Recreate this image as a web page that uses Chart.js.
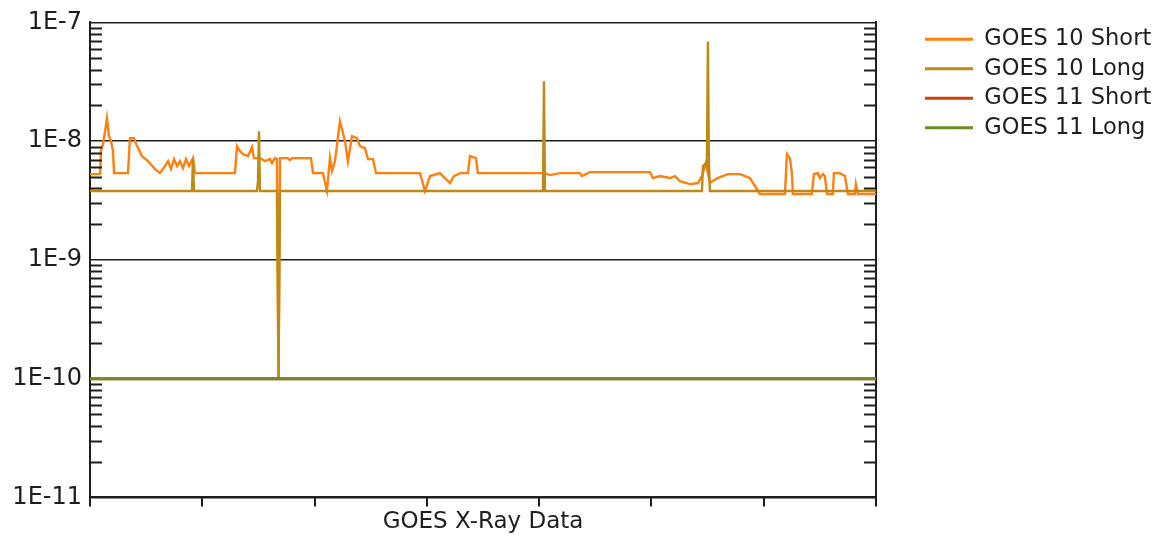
<!DOCTYPE html>
<html>
<head>
<meta charset="utf-8">
<script src="https://cdn.jsdelivr.net/npm/chart.js@4.4.0/dist/chart.umd.min.js"></script>
<style>
  html, body { margin: 0; padding: 0; background: #fff; }
  #wrap { width: 1162px; height: 536px; position: relative; }
</style>
</head>
<body>
<div id="wrap"><canvas id="xrayChart"></canvas></div>
<script>
// ---- Data (time in hours from start, flux in W/m^2) ----
const seriesNames = ['GOES 10 Short', 'GOES 10 Long', 'GOES 11 Short', 'GOES 11 Long'];
const seriesColors = ['#ff8010', '#bf8a14', '#c84408', '#6e8c23'];

const g10ShortTime = [
  0, 0.089, 0.098, 0.116, 0.134, 0.151, 0.169, 0.187, 0.205, 0.214,
  0.338, 0.356, 0.392, 0.419, 0.463, 0.516, 0.579, 0.623, 0.668, 0.695,
  0.721, 0.748, 0.775, 0.801, 0.828, 0.855, 0.882, 0.917, 0.935, 1.291,
  1.309, 1.336, 1.362, 1.407, 1.443, 1.460, 1.514, 1.558, 1.603, 1.621,
  1.647, 1.665, 1.679, 1.692, 1.763, 1.781, 1.799, 1.968, 1.986, 2.075,
  2.110, 2.137, 2.155, 2.182, 2.226, 2.271, 2.297, 2.333, 2.378, 2.404,
  2.449, 2.476, 2.520, 2.547, 2.939, 2.983, 3.028, 3.117, 3.161, 3.206,
  3.241, 3.295, 3.366, 3.384, 3.437, 3.455, 4.052, 4.096, 4.185, 4.363,
  4.381, 4.452, 4.987, 5.013, 5.076, 5.165, 5.209, 5.254, 5.343, 5.414,
  5.450, 5.485, 5.521, 5.574, 5.610, 5.681, 5.788, 5.877, 5.922, 5.966,
  6.189, 6.207, 6.233, 6.251, 6.260, 6.429, 6.447, 6.483, 6.500, 6.527,
  6.545, 6.563, 6.616, 6.625, 6.679, 6.723, 6.750, 6.812, 6.821, 6.839,
  7.0
];
const g10ShortFlux = [
  5.28e-9, 5.28e-9, 8.24e-9, 9.44e-9, 1.21e-8, 1.56e-8, 1.10e-8, 1.0e-8, 8.24e-9, 5.38e-9,
  5.38e-9, 1.06e-8, 1.06e-8, 9.08e-9, 7.48e-9, 6.79e-9, 5.82e-9, 5.38e-9, 6.17e-9, 6.79e-9,
  5.82e-9, 7.06e-9, 6.17e-9, 6.79e-9, 5.93e-9, 7.06e-9, 6.17e-9, 7.20e-9, 5.38e-9, 5.38e-9,
  9.08e-9, 8.24e-9, 7.78e-9, 7.48e-9, 8.91e-9, 7.20e-9, 7.20e-9, 6.79e-9, 7.06e-9, 6.53e-9,
  7.20e-9, 7.06e-9, 1e-10, 7.20e-9, 7.20e-9, 6.92e-9, 7.20e-9, 7.20e-9, 5.38e-9, 5.38e-9,
  3.80e-9, 7.20e-9, 5.60e-9, 6.79e-9, 1.47e-8, 1.0e-8, 6.79e-9, 1.10e-8, 1.06e-8, 9.08e-9,
  8.73e-9, 7.06e-9, 7.06e-9, 5.38e-9, 5.38e-9, 3.80e-9, 5.08e-9, 5.38e-9, 4.89e-9, 4.44e-9,
  5.08e-9, 5.38e-9, 5.38e-9, 7.48e-9, 7.20e-9, 5.38e-9, 5.38e-9, 5.18e-9, 5.38e-9, 5.38e-9,
  5.08e-9, 5.49e-9, 5.49e-9, 4.89e-9, 5.08e-9, 4.89e-9, 5.08e-9, 4.61e-9, 4.35e-9, 4.44e-9,
  5.08e-9, 6.53e-9, 4.44e-9, 4.80e-9, 4.98e-9, 5.28e-9, 5.28e-9, 4.89e-9, 4.19e-9, 3.59e-9,
  3.59e-9, 7.78e-9, 7.20e-9, 5.38e-9, 3.59e-9, 3.59e-9, 5.28e-9, 5.38e-9, 4.89e-9, 5.28e-9,
  5.08e-9, 3.59e-9, 3.59e-9, 5.38e-9, 5.38e-9, 5.08e-9, 3.59e-9, 3.59e-9, 4.35e-9, 3.59e-9,
  3.59e-9
];

const g10LongTime = [0, 0.908, 0.917, 0.926, 1.487, 1.496, 1.505, 1.514, 1.665, 1.679, 1.692,
  4.034, 4.043, 4.052, 5.450, 5.459, 5.485, 5.494, 5.503, 5.512, 5.521, 7.0];
const g10LongFlux = [3.8e-9, 3.8e-9, 7.06e-9, 3.8e-9, 3.8e-9, 4.61e-9, 1.21e-8, 3.8e-9, 3.8e-9, 1e-10, 3.8e-9,
  3.8e-9, 3.19e-8, 3.8e-9, 3.8e-9, 6.17e-9, 6.53e-9, 6.17e-9, 6.92e-8, 6.79e-9, 3.8e-9, 3.8e-9];

const g11Time = [0, 7.0];
const g11ShortFlux = [1e-10, 1e-10];
const g11LongFlux = [1e-10, 1e-10];

const timeTicks = [0, 1, 2, 3, 4, 5, 6, 7];
const fluxTicks = [1e-11, 1e-10, 1e-9, 1e-8, 1e-7];
const fluxTickLabels = ['1E-11', '1E-10', '1E-9', '1E-8', '1E-7'];

const toPoints = (xs, ys) => xs.map((x, i) => ({ x: x, y: ys[i] }));

const FONT = "'DejaVu Sans', Verdana, sans-serif";
const INK = '#1e1e1e';

// ---- minor log ticks drawn inward on both sides of the plot ----
const minorTicks = {
  id: 'minorTicks',
  afterDatasetsDraw(chart) {
    const { ctx, chartArea, scales } = chart;
    const y = scales.y;
    ctx.save();
    ctx.strokeStyle = INK;
    ctx.lineWidth = 2;
    ctx.beginPath();
    for (let e = -11; e < -7; e++) {
      for (let k = 2; k <= 9; k++) {
        const py = Math.round(y.getPixelForValue(k * Math.pow(10, e))) + 0.5;
        ctx.moveTo(chartArea.left, py);
        ctx.lineTo(chartArea.left + 12, py);
        ctx.moveTo(chartArea.right, py);
        ctx.lineTo(chartArea.right - 12, py);
      }
    }
    ctx.stroke();
    ctx.restore();
  }
};

// ---- fixed legend width so the plot ends where the original does ----
const legendWidth = {
  id: 'legendWidth',
  beforeInit(chart) {
    const fit = chart.legend.fit;
    chart.legend.fit = function () {
      fit.call(this);
      this.width = 244;
    };
  }
};

const datasets = [
  toPoints(g10ShortTime, g10ShortFlux),
  toPoints(g10LongTime, g10LongFlux),
  toPoints(g11Time, g11ShortFlux),
  toPoints(g11Time, g11LongFlux)
].map((pts, i) => ({
  label: seriesNames[i],
  data: pts,
  borderColor: seriesColors[i],
  backgroundColor: seriesColors[i],
  borderWidth: i >= 2 ? 3 : 2.4,
  pointRadius: 0,
  tension: 0,
  order: 4 - i
}));

const ctx = document.getElementById('xrayChart').getContext('2d');
const xrayChart = new Chart(ctx, {
  type: 'line',
  data: { datasets: datasets },
  plugins: [minorTicks, legendWidth],
  options: {
    responsive: true,
    maintainAspectRatio: false,
    animation: false,
    layout: { padding: { left: 0, top: 21, right: 0, bottom: 0 } },
    plugins: {
      tooltip: { enabled: false },
      legend: {
        position: 'right',
        align: 'start',
        labels: {
          usePointStyle: true,
          pointStyle: 'line',
          pointStyleWidth: 48,
          boxWidth: 48,
          padding: 7,
          color: INK,
          font: { family: FONT, size: 22.5 },
          sort: (a, b) => a.datasetIndex - b.datasetIndex,
          generateLabels: chart => Chart.defaults.plugins.legend.labels.generateLabels(chart)
            .map(l => Object.assign(l, { lineWidth: 3 }))
        }
      }
    },
    scales: {
      x: {
        type: 'linear',
        min: 0,
        max: 7,
        afterBuildTicks: s => { s.ticks = timeTicks.map(v => ({ value: v })); },
        ticks: { display: false },
        grid: { drawOnChartArea: false, drawTicks: true, tickLength: 9, color: INK, lineWidth: 2 },
        border: { display: true, color: INK, width: 2 },
        title: {
          display: true,
          text: 'GOES X-Ray Data',
          color: INK,
          font: { family: FONT, size: 23 },
          padding: { top: 2, bottom: 0 }
        }
      },
      y: {
        type: 'logarithmic',
        min: 1e-11,
        max: 1e-7,
        afterBuildTicks: s => { s.ticks = fluxTicks.map(v => ({ value: v })); },
        afterFit: s => { s.width = 90; },
        ticks: {
          color: INK,
          padding: 8,
          font: { family: FONT, size: 24 },
          callback: (v, i) => fluxTickLabels[i]
        },
        grid: { color: INK, lineWidth: 1.5, drawTicks: false },
        border: { display: true, color: INK, width: 2 }
      },
      yRight: {
        type: 'logarithmic',
        position: 'right',
        min: 1e-11,
        max: 1e-7,
        afterFit: s => { s.width = 42; },
        ticks: { display: false },
        grid: { drawOnChartArea: false, drawTicks: false },
        border: { display: true, color: INK, width: 2 }
      }
    }
  }
});
</script>
</body>
</html>
